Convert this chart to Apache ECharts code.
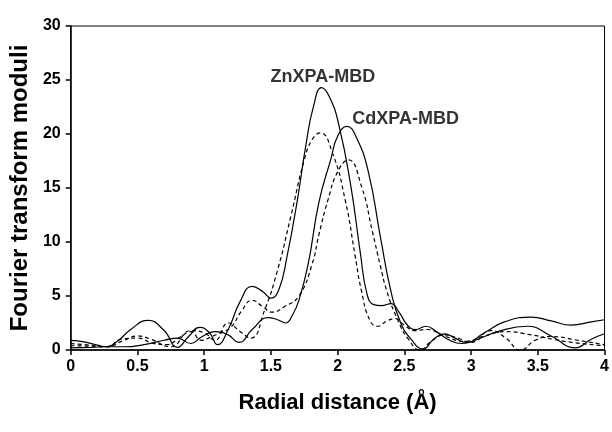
<!DOCTYPE html>
<html>
<head>
<meta charset="utf-8">
<script src="https://cdn.jsdelivr.net/npm/echarts@6/dist/echarts.min.js"></script>
<style>
  html, body { margin: 0; padding: 0; background: #fff; }
  #chart { width: 612px; height: 432px; }
</style>
</head>
<body>
<div id="chart"></div>
<script>
// radial distance (A) vs FT modulus
const znSolid = [
  [0, 0.9], [0.1, 0.75], [0.2, 0.45], [0.27, 0.3], [0.35, 0.8], [0.45, 1.9],
  [0.58, 2.75], [0.7, 1.8], [0.8, 0.25], [0.88, 1.2], [0.97, 2.1], [1.04, 1.6],
  [1.1, 0.5], [1.18, 1.9], [1.27, 4.5], [1.36, 5.9], [1.44, 5.4], [1.5, 4.8],
  [1.56, 5.6], [1.62, 8.6], [1.7, 14], [1.76, 18.8], [1.82, 22.6], [1.88, 24.3],
  [1.94, 23.4], [2.01, 20.8], [2.1, 15.1], [2.17, 9], [2.22, 5.2], [2.27, 4.2],
  [2.33, 4.1], [2.4, 4.3], [2.46, 3.5], [2.53, 2.2], [2.59, 1.9], [2.66, 2.2],
  [2.74, 1.7], [2.84, 0.9], [2.93, 0.6], [3.05, 1.0], [3.2, 1.7], [3.42, 2.2],
  [3.6, 1.3], [3.78, 0.2], [3.9, 1.0], [4.0, 1.5]
];
const znDashed = [
  [0, 0.6], [0.1, 0.5], [0.27, 0.3], [0.4, 0.9], [0.5, 1.3], [0.6, 1.0],
  [0.75, 0.3], [0.9, 1.8], [1.0, 1.6], [1.08, 0.9], [1.18, 2.5], [1.27, 1.7],
  [1.35, 1.1], [1.45, 3.6], [1.55, 7.4], [1.65, 12.4], [1.75, 17.6], [1.81, 19.5],
  [1.87, 20.1], [1.96, 18.3], [2.06, 13.7], [2.13, 8.8], [2.18, 5.4], [2.24, 2.8],
  [2.3, 2.2], [2.37, 2.7], [2.43, 2.9], [2.5, 2.3], [2.58, 1.8], [2.67, 1.9],
  [2.8, 1.3], [2.95, 0.8], [3.1, 1.3], [3.25, 1.7], [3.45, 1.4], [3.7, 0.8],
  [4.0, 0.4]
];
const cdSolid = [
  [0, 0.2], [0.15, 0.25], [0.27, 0.3], [0.4, 0.3], [0.55, 0.5], [0.7, 0.9],
  [0.8, 1.1], [0.9, 0.6], [0.98, 1.2], [1.08, 1.7], [1.18, 1.4], [1.26, 0.7],
  [1.36, 1.9], [1.48, 3.0], [1.55, 2.8], [1.61, 2.5], [1.66, 3.2], [1.71, 4.6],
  [1.78, 8.0], [1.86, 13.7], [1.95, 17.7], [2.0, 19.8], [2.07, 20.7], [2.14, 19.7],
  [2.23, 16.5], [2.32, 10.5], [2.4, 5.4], [2.47, 2.6], [2.55, 1.0], [2.64, 0.1],
  [2.72, 1.0], [2.8, 1.5], [2.88, 1.1], [2.96, 0.7], [3.1, 1.6], [3.25, 2.6],
  [3.45, 3.05], [3.6, 2.7], [3.75, 2.3], [3.9, 2.6], [4.0, 2.8]
];
const cdDashed = [
  [0, 0.4], [0.15, 0.35], [0.27, 0.3], [0.38, 1.0], [0.5, 1.1], [0.62, 0.6],
  [0.72, 0.5], [0.82, 1.2], [0.9, 1.7], [0.98, 0.9], [1.05, 1.2], [1.12, 1.6],
  [1.2, 2.1], [1.28, 3.6], [1.36, 4.6], [1.44, 4.0], [1.51, 3.5], [1.6, 4.0],
  [1.71, 5.0], [1.81, 8.0], [1.86, 10.7], [1.93, 14], [2.0, 16.5], [2.08, 17.6],
  [2.18, 15.1], [2.26, 11], [2.32, 7.8], [2.37, 5.4], [2.45, 2.8], [2.53, 1.0],
  [2.62, 0.0], [2.7, 0.8], [2.8, 1.4], [2.9, 1.1], [3.0, 0.7], [3.15, 1.8],
  [3.26, 1.1], [3.37, 0.0], [3.48, 0.9], [3.6, 1.25], [3.8, 0.9], [4.0, 0.5]
];

const xTicks = [0, 0.5, 1, 1.5, 2, 2.5, 3, 3.5, 4];
const yTicks = [0, 5, 10, 15, 20, 25, 30];
const labels = [
  { name: 'ZnXPA-MBD', x: 1.89, y: 25.3 },
  { name: 'CdXPA-MBD', x: 2.51, y: 21.35 }
];

const font = 'Liberation Sans, Arial, sans-serif';

function lineSeries(name, data, dashed) {
  return {
    name: name,
    type: 'line',
    data: data,
    smooth: 0.5,
    symbol: 'none',
    clip: true,
    lineStyle: { color: '#000', width: 1.2, type: dashed ? [4, 3] : 'solid' }
  };
}

const series = [
  lineSeries('Zn', znSolid, false),
  lineSeries('Zn fit', znDashed, true),
  lineSeries('Cd', cdSolid, false),
  lineSeries('Cd fit', cdDashed, true),
  {
    type: 'scatter',
    silent: true,
    symbolSize: 0,
    data: labels.map(l => ({ value: [l.x, l.y], name: l.name })),
    label: {
      show: true,
      position: 'inside',
      formatter: p => p.name,
      color: '#000',
      fontFamily: font,
      fontWeight: 'bold',
      fontSize: 18
    }
  }
];

const chart = echarts.init(document.getElementById('chart'));
chart.setOption({
  animation: false,
  grid: {
    left: 68, right: 3, top: 26, bottom: 82,
    show: true, borderColor: '#000', borderWidth: 1
  },
  xAxis: {
    type: 'value',
    min: 0, max: 4, interval: 0.5,
    name: 'Radial distance (Å)',
    nameLocation: 'middle',
    nameGap: 42,
    nameTextStyle: { fontFamily: font, fontWeight: 'bold', fontSize: 22, color: '#000' },
    axisLine: { show: true, lineStyle: { color: '#000', width: 1.5 } },
    axisTick: { show: true, inside: false, length: 5, lineStyle: { color: '#000', width: 1.5 } },
    axisLabel: {
      fontFamily: font, fontWeight: 'bold', fontSize: 16, color: '#000', margin: 9,
      formatter: v => (xTicks.includes(v) ? String(v) : '')
    },
    splitLine: { show: false }
  },
  yAxis: {
    type: 'value',
    min: 0, max: 30, interval: 5,
    name: 'Fourier transform moduli',
    nameLocation: 'middle',
    nameGap: 33,
    nameTextStyle: { fontFamily: font, fontWeight: 'bold', fontSize: 24, color: '#000' },
    axisLine: { show: true, lineStyle: { color: '#000', width: 1.5 } },
    axisTick: { show: true, inside: false, length: 5, lineStyle: { color: '#000', width: 1.5 } },
    axisLabel: {
      fontFamily: font, fontWeight: 'bold', fontSize: 16, color: '#000', margin: 10,
      formatter: v => (yTicks.includes(v) ? String(v) : '')
    },
    splitLine: { show: false }
  },
  series: series
});
</script>
</body>
</html>
